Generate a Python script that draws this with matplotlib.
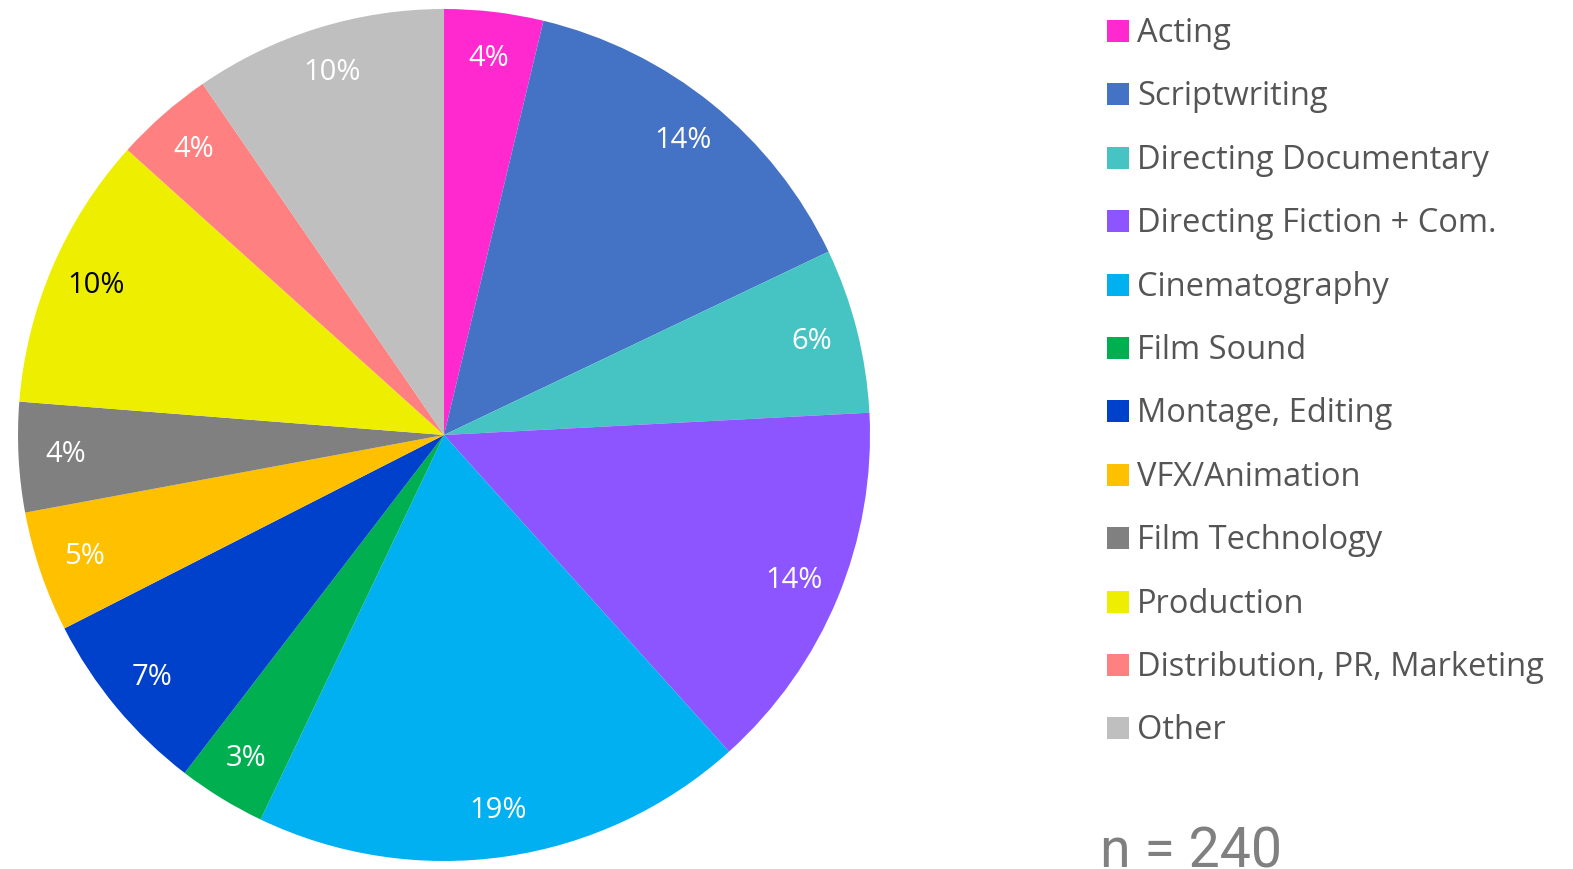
import matplotlib
matplotlib.use("Agg")
import matplotlib.pyplot as plt
from matplotlib.patches import Rectangle

W, H = 1573, 869

categories = [
    "Acting", "Scriptwriting", "Directing Documentary", "Directing Fiction + Com.",
    "Cinematography", "Film Sound", "Montage, Editing", "VFX/Animation",
    "Film Technology", "Production", "Distribution, PR, Marketing", "Other",
]
counts = [9, 34, 15, 34, 45, 8, 17, 11, 10, 25, 9, 23]
colors = [
    "#FF29CF", "#4472C4", "#46C4C4", "#8C55FF", "#00B0F0", "#00B050",
    "#0041CC", "#FFC000", "#808080", "#EEEE00", "#FF8080", "#BFBFBF",
]
label_colors = ["white"] * 9 + ["black"] + ["white"] * 2
n_total = sum(counts)

plt.rcParams["font.family"] = ["Open Sans", "DejaVu Sans"]

fig = plt.figure(figsize=(W / 100, H / 100), dpi=100)

# pie centre ~ (444, 435) px, radius ~426 px
cx, cy, r = 444, 435, 426
ax = fig.add_axes([(cx - r) / W, (H - cy - r) / H, 2 * r / W, 2 * r / H])
wedges, _, autotexts = ax.pie(
    counts, colors=colors, startangle=90, counterclock=False,
    autopct="%.0f%%", pctdistance=0.89, radius=1,
    wedgeprops=dict(linewidth=0), textprops=dict(fontsize=21),
)
for t, c in zip(autotexts, label_colors):
    t.set_color(c)
ax.set_xlim(-1, 1)
ax.set_ylim(-1, 1)
ax.set_aspect("equal")
ax.axis("off")

# legend drawn by hand, one row per category
row0, step = 31, 63.4
for i, (name, col) in enumerate(zip(categories, colors)):
    yc = row0 + i * step
    fig.patches.append(Rectangle((1107 / W, 1 - (yc + 11) / H), 22 / W, 22 / H,
                                 transform=fig.transFigure, color=col, lw=0))
    fig.text(1137 / W, 1 - (yc + 11) / H, name, fontsize=23.5, color="#555555",
             ha="left", va="baseline")

fig.text(1100 / W, 1 - 867 / H, f"n = {n_total}", fontsize=40, color="#808080",
         family="Roboto", ha="left", va="baseline")

fig.savefig("out.png", dpi=100)
